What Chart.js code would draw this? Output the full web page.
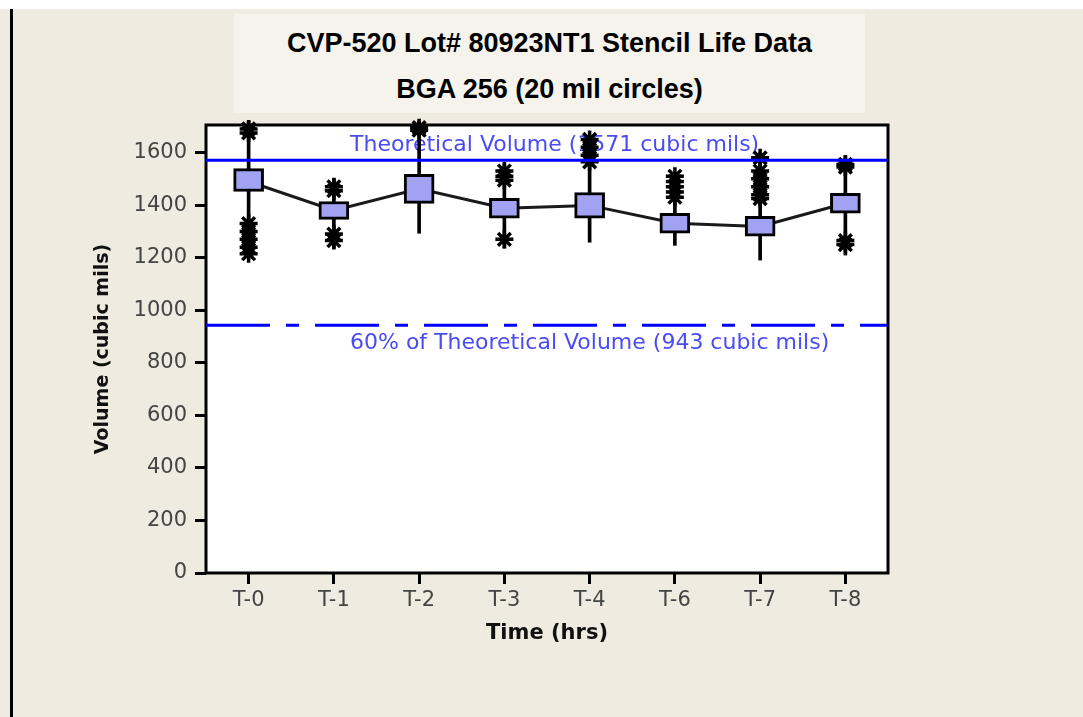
<!DOCTYPE html>
<html>
<head>
<meta charset="utf-8">
<script src="https://cdn.jsdelivr.net/npm/chart.js@4"></script>
<style>
  html, body { margin: 0; padding: 0; background: #fff; }
  #page { position: relative; width: 1083px; height: 717px; overflow: hidden; background: #fff; }
  #bg { position: absolute; left: 0; top: 9px; width: 1083px; height: 708px; background: #efebe1; }
  #vline { position: absolute; left: 10px; top: 9px; width: 3px; height: 708px; background: #000; }
  #titleBox {
    position: absolute; left: 234px; top: 14px; width: 631px; height: 99px;
    background: #f5f3eb; text-align: center;
    font-family: "Liberation Sans", Arial, sans-serif; font-weight: bold; font-size: 27px;
    line-height: 46px; padding-top: 6px; box-sizing: border-box; color: #000;
  }
  #graph { position: absolute; left: 0; top: 0; }
</style>
</head>
<body>
<div id="page">
  <div id="bg"></div>
  <div id="vline"></div>
  <div id="titleBox">CVP-520 Lot# 80923NT1 Stencil Life Data<br>BGA 256 (20 mil circles)</div>
  <canvas id="graph" width="1083" height="717"></canvas>
</div>
<script>
const ctx = document.getElementById('graph').getContext('2d');

// Data
const labels = ['T-0', 'T-1', 'T-2', 'T-3', 'T-4', 'T-6', 'T-7', 'T-8'];
const means = [1490, 1380, 1462, 1388, 1399, 1331, 1319, 1407];
const boxLow = [1452, 1346, 1407, 1350, 1350, 1293, 1282, 1369];
const boxHigh = [1539, 1414, 1517, 1426, 1448, 1369, 1357, 1445];
const whiskerLow = [1198, 1236, 1293, 1236, 1259, 1247, 1191, 1210];
const whiskerHigh = [1721, 1501, 1721, 1558, 1664, 1524, 1600, 1589];
// outlying points (stars), one list per time point
const stars = [
    [1690, 1675, 1330, 1300, 1270, 1240, 1215],
    [1470, 1455, 1290, 1265],
    [1695, 1685],
    [1530, 1510, 1495, 1270],
    [1650, 1620, 1590, 1565],
    [1510, 1490, 1470, 1450, 1430],
    [1580, 1530, 1500, 1470, 1440, 1425],
    [1555, 1545, 1265, 1250],
];
const theoretical = 1571;
const sixtyPct = 943;
const yTicks = [0, 200, 400, 600, 800, 1000, 1200, 1400, 1600];

const starPoints = [];
stars.forEach((list, i) => list.forEach(v => starPoints.push({ x: labels[i], y: v })));

const plotDeco = {
    id: 'plotDeco',
    beforeDraw(chart) {
        const a = chart.chartArea;
        const c = chart.ctx;
        c.save();
        c.fillStyle = '#fff';
        c.fillRect(a.left, a.top, a.right - a.left, a.bottom - a.top);
        c.restore();
    },
    beforeDatasetsDraw(chart) {
        const a = chart.chartArea;
        const c = chart.ctx;
        const y = chart.scales.y;
        c.save();
        c.strokeStyle = '#000';
        c.lineWidth = 3;
        c.strokeRect(a.left, a.top, a.right - a.left, a.bottom - a.top);
        c.fillStyle = '#4b4bf6';
        c.font = '22px "DejaVu Sans", sans-serif';
        c.textBaseline = 'middle';
        c.fillText('Theoretical Volume (1571 cubic mils)', 350, y.getPixelForValue(theoretical) - 15);
        c.fillText('60% of Theoretical Volume (943 cubic mils)', 350, y.getPixelForValue(sixtyPct) + 18);
        c.restore();
    }
};

new Chart(ctx, {
    type: 'bar',
    data: {
        labels: labels,
        datasets: [
            {
                type: 'line',
                label: 'Theoretical',
                xAxisID: 'x2',
                data: [{ x: 0, y: theoretical }, { x: 1, y: theoretical }],
                borderColor: '#0000ff',
                borderWidth: 3,
                pointRadius: 0,
                clip: false,
                order: 0,
            },
            {
                type: 'line',
                label: '60%',
                xAxisID: 'x2',
                data: [{ x: 0, y: sixtyPct }, { x: 1, y: sixtyPct }],
                borderColor: '#0000ff',
                borderWidth: 3,
                borderDash: [64, 16, 13, 16],
                pointRadius: 0,
                clip: false,
                order: 0,
            },
            {
                type: 'line',
                label: 'points',
                xAxisID: 'x',
                data: starPoints,
                showLine: false,
                pointStyle: 'star',
                pointRadius: 9,
                borderWidth: 3.5,
                borderColor: '#000',
                backgroundColor: '#000',
                clip: false,
                order: 1,
            },
            {
                label: 'box',
                xAxisID: 'x',
                data: boxLow.map((v, i) => [v, boxHigh[i]]),
                backgroundColor: '#a2a2f2',
                borderColor: '#000',
                borderWidth: 3,
                borderSkipped: false,
                barThickness: 30,
                grouped: false,
                order: 2,
            },
            {
                type: 'line',
                label: 'mean',
                xAxisID: 'x',
                data: means,
                borderColor: '#1a1a1a',
                borderWidth: 3,
                pointRadius: 0,
                tension: 0,
                order: 3,
            },
            {
                label: 'range',
                xAxisID: 'x',
                data: whiskerLow.map((v, i) => [v, whiskerHigh[i]]),
                backgroundColor: '#000',
                borderWidth: 0,
                barThickness: 3,
                grouped: false,
                clip: false,
                order: 4,
            },
        ],
    },
    options: {
        responsive: false,
        animation: false,
        layout: { padding: { left: 88, top: 125, right: 195, bottom: 70 } },
        plugins: {
            legend: { display: false },
            tooltip: { enabled: false },
        },
        scales: {
            x: {
                type: 'category',
                offset: true,
                afterFit: (s) => { s.height = 74; },
                grid: {
                    offset: false,
                    drawOnChartArea: false,
                    drawTicks: true,
                    tickLength: 11,
                    tickWidth: 3,
                    tickColor: '#000',
                },
                border: { display: false },
                ticks: {
                    color: '#444',
                    padding: 4,
                    font: { family: '"DejaVu Sans"', size: 21 },
                },
                title: {
                    display: true,
                    text: 'Time (hrs)',
                    color: '#111',
                    padding: { top: 2, bottom: 1 },
                    font: { family: '"DejaVu Sans"', size: 21, weight: 'bold' },
                },
            },
            x2: {
                type: 'linear',
                min: 0,
                max: 1,
                offset: false,
                display: false,
            },
            y: {
                min: 0,
                max: 1705,
                afterFit: (s) => { s.width = 118; },
                afterBuildTicks: (s) => { s.ticks = yTicks.map(v => ({ value: v })); },
                grid: {
                    drawOnChartArea: false,
                    drawTicks: true,
                    tickLength: 11,
                    tickWidth: 3,
                    tickColor: '#000',
                },
                border: { display: false },
                ticks: {
                    color: '#444',
                    padding: 8,
                    callback: (v) => String(v),
                    font: { family: '"DejaVu Sans"', size: 21 },
                },
                title: {
                    display: true,
                    text: 'Volume (cubic mils)',
                    color: '#111',
                    font: { family: '"DejaVu Sans"', size: 19, weight: 'bold' },
                },
            },
        },
    },
    plugins: [plotDeco],
});
</script>
</body>
</html>
